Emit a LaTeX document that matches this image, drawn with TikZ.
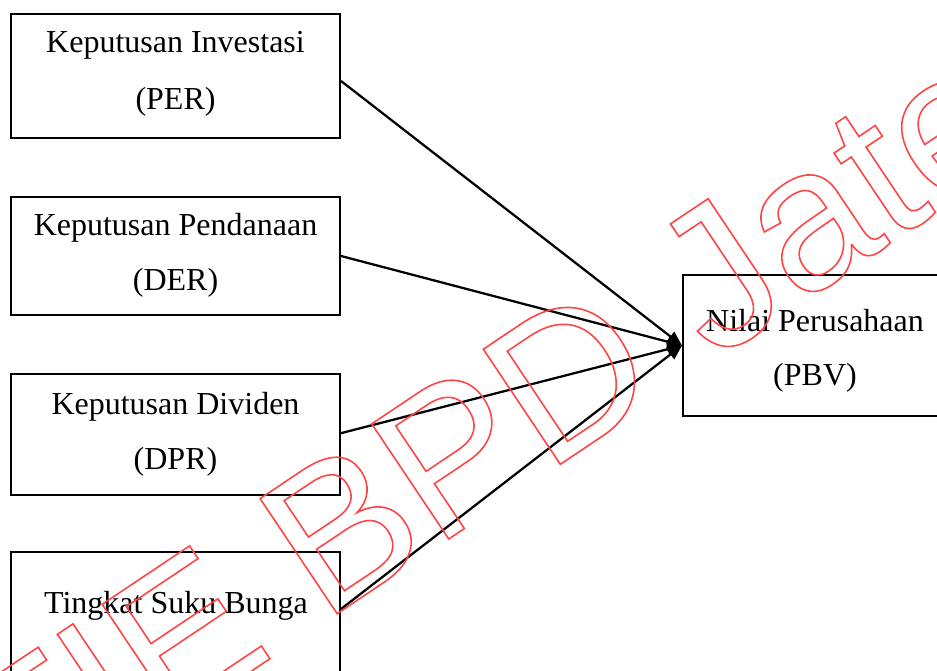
\documentclass[tikz,border=0pt]{standalone}
\usepackage{fontspec}
\setmainfont{Liberation Serif}
\newfontfamily\wmfont{Liberation Sans}
\usetikzlibrary{arrows.meta}
\definecolor{wmred}{RGB}{255,70,70}
\tikzset{
  boxnode/.style={draw=black, line width=1.5pt, rectangle, inner sep=0pt},
  lbl/.style={anchor=base, inner sep=0pt, font=\fontsize{24pt}{24pt}\selectfont},
  conn/.style={line width=1.7pt, -{Triangle[length=11pt,width=9pt]}},
}
\begin{document}
\begin{tikzpicture}[x=0.75pt,y=-0.75pt]
\useasboundingbox (0,0) rectangle (937,670);
\begin{scope}
\clip (0,0) rectangle (937,670);
% boxes (corner coordinates in pixels)
\node[boxnode, minimum width=329*0.75pt, minimum height=124*0.75pt] (b1) at (175.5,76) {};
\node[boxnode, minimum width=329*0.75pt, minimum height=118*0.75pt] (b2) at (175.5,256) {};
\node[boxnode, minimum width=329*0.75pt, minimum height=121*0.75pt] (b3) at (175.5,434.5) {};
\node[boxnode, minimum width=329*0.75pt, minimum height=150*0.75pt] (b4) at (175.5,627) {};
\node[boxnode, minimum width=264*0.75pt, minimum height=141*0.75pt] (b5) at (815,345.5) {};
% labels
\node[lbl] (t1a) at (175.5,53) {Keputusan Investasi};
\node[lbl] (t1b) at (175.5,110) {(PER)};
\node[lbl] (t2a) at (175.5,235) {Keputusan Pendanaan};
\node[lbl] (t2b) at (175.5,290) {(DER)};
\node[lbl] (t3a) at (175.5,414) {Keputusan Dividen};
\node[lbl] (t3b) at (175.5,469) {(DPR)};
\node[lbl] (t4a) at (176,613) {Tingkat Suku Bunga};
\node[lbl] (t5a) at (815,331) {Nilai Perusahaan};
\node[lbl] (t5b) at (815,385) {(PBV)};
% connectors
\draw[conn] ([yshift=-3.75pt]b1.east) -- (b5.west);
\draw[conn] (b2.east) -- (b5.west);
\draw[conn] ([yshift=1pt]b3.east) -- (b5.west);
\draw[conn] ([yshift=13.5pt]b4.east) -- (b5.west);
% watermark
\node[anchor=base west, inner sep=0pt, rotate=33.8, text=wmred,
      font=\wmfont\fontsize{151pt}{151pt}\selectfont] (wm) at (-95,903)
  {\special{pdf:literal direct 1 Tr 1.2 w}STIE BPD Jateng\special{pdf:literal direct 0 Tr}};
\end{scope}
\end{tikzpicture}
\end{document}
